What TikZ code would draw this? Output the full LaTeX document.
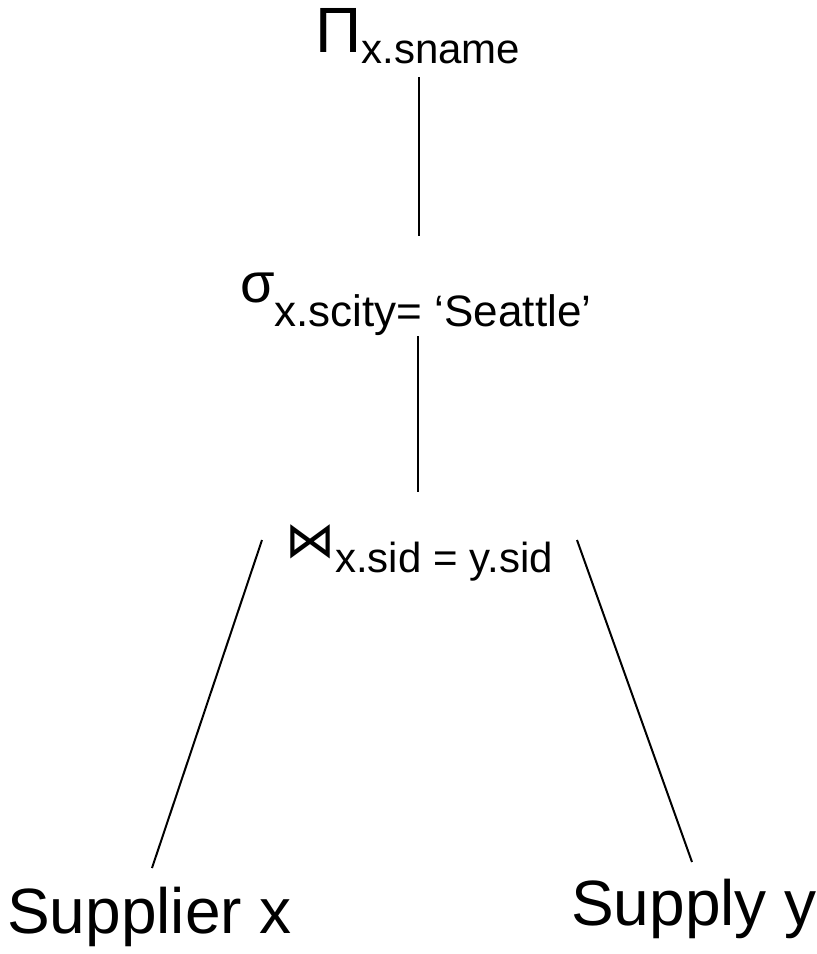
\documentclass[tikz,border=0pt]{standalone}
\usepackage{fontspec}
\setmainfont{Liberation Sans}
\newfontfamily\symfont{DejaVu Sans}
\usetikzlibrary{positioning}

\newcommand\bigsz{\fontsize{64}{70}\selectfont}
\newcommand\opsub[4]{{#1}\raisebox{-#2}{\fontsize{#3}{#3}\selectfont #4}}

\begin{document}
\begin{tikzpicture}[x=1pt, y=-1pt,
  op/.style={inner sep=0pt, anchor=base west},
  rel/.style={inner sep=0pt, anchor=base west, font=\bigsz},
  edge/.style={line width=2pt},
]
\useasboundingbox (0,0) rectangle (817,954);

% operators
\node[op] (proj) at (315,52) {\opsub{\bigsz Π}{11pt}{42pt}{x.sname}};
\node[op] (sel) at (240,302) {\opsub{\fontsize{56}{60}\selectfont σ}{24pt}{44pt}{x.scity= ‘Seattle’}};
\node[op] (join) at (285,557) {\opsub{\symfont\fontsize{50}{54}\selectfont ⋈}{15pt}{42pt}{x.sid = y.sid}};

% relations
\node[rel] (supplier) at (7,933) {Supplier x};
\node[rel] (supply) at (571,925) {Supply y};

% edge ends
\coordinate (proj-s) at (419,77);
\coordinate (sel-n) at (419,236);
\coordinate (sel-s) at (418,336);
\coordinate (join-n) at (418,492);
\coordinate (join-l) at (262,540);
\coordinate (join-r) at (577,540);
\coordinate (supplier-n) at (152,868);
\coordinate (supply-n) at (692,862);

\draw[edge] (proj-s) -- (sel-n);
\draw[edge] (sel-s) -- (join-n);
\draw[edge] (join-l) -- (supplier-n);
\draw[edge] (join-r) -- (supply-n);

\end{tikzpicture}
\end{document}
